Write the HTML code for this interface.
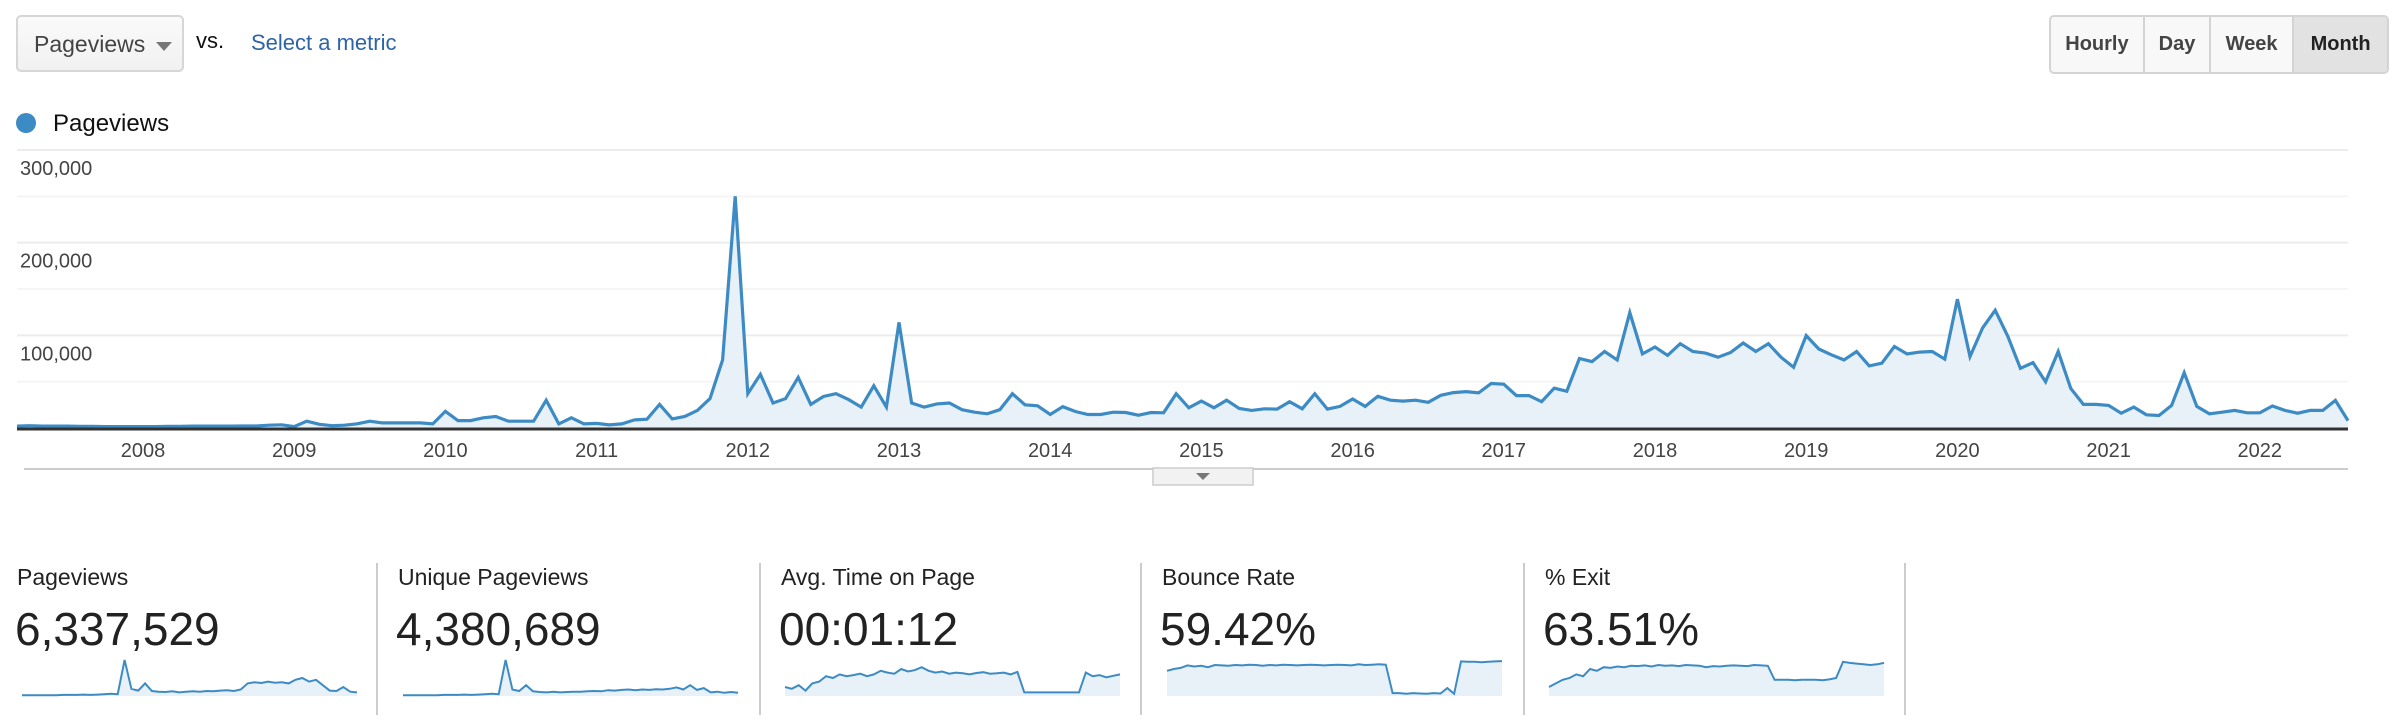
<!DOCTYPE html>
<html><head><meta charset="utf-8"><style>
body{margin:0;width:2404px;height:724px;background:#fff;font-family:"Liberation Sans",Arial,sans-serif;overflow:hidden;position:relative}
.abs{position:absolute}
.dd{left:16px;top:15px;width:168px;height:57px;border:2px solid #d6d6d6;border-radius:5px;background:linear-gradient(#fafafa,#f1f1f1);box-sizing:border-box}
.dd span{position:absolute;left:16px;top:14px;font-size:23px;color:#444}
.dd i{position:absolute;left:138px;top:25px;width:0;height:0;border-left:8px solid transparent;border-right:8px solid transparent;border-top:9px solid #777}
.btns{left:2049px;top:15px;width:340px;height:59px;border:2px solid #d4d4d4;border-radius:5px;box-sizing:border-box;display:flex;overflow:hidden;background:#f8f8f8}
.btns div{display:flex;align-items:center;justify-content:center;font-weight:bold;font-size:20px;color:#444;border-right:2px solid #d4d4d4;box-sizing:border-box}
.card-t{font-size:23px;color:#222;top:564px}
.card-v{font-size:46px;color:#222;top:602px}
.sep{width:2px;background:#ccc;top:563px;height:152px}
</style></head><body>
<div class="abs dd"><span>Pageviews</span><i></i></div>
<div class="abs" style="left:196px;top:28px;font-size:22px;color:#111">vs.</div>
<div class="abs" style="left:251px;top:30px;font-size:22px;color:#2e63a8">Select a metric</div>
<div class="abs btns">
<div style="width:95px">Hourly</div>
<div style="width:67px">Day</div>
<div style="width:84px">Week</div>
<div style="width:94px;background:#e2e2e2;color:#222;border-right:none">Month</div>
</div>
<div class="abs" style="left:16px;top:113px;width:20px;height:20px;border-radius:50%;background:#3d8bc4"></div>
<div class="abs" style="left:53px;top:110px;font-size:24px;color:#111">Pageviews</div>

<svg class="abs" style="left:0;top:0" width="2404" height="724" id="chart"></svg>

<div class="abs card-t" style="left:17px">Pageviews</div>
<div class="abs card-v" style="left:15px">6,337,529</div>
<div class="abs sep" style="left:376px"></div>
<div class="abs card-t" style="left:398px">Unique Pageviews</div>
<div class="abs card-v" style="left:396px">4,380,689</div>
<div class="abs sep" style="left:759px"></div>
<div class="abs card-t" style="left:781px">Avg. Time on Page</div>
<div class="abs card-v" style="left:779px">00:01:12</div>
<div class="abs sep" style="left:1140px"></div>
<div class="abs card-t" style="left:1162px">Bounce Rate</div>
<div class="abs card-v" style="left:1160px">59.42%</div>
<div class="abs sep" style="left:1523px"></div>
<div class="abs card-t" style="left:1545px">% Exit</div>
<div class="abs card-v" style="left:1543px">63.51%</div>
<div class="abs sep" style="left:1904px"></div>

<script>
const yearLabels=["2008","2009","2010","2011","2012","2013","2014","2015","2016","2017","2018","2019","2020","2021","2022"];
const yTicks=[100000,200000,300000];
const yTickLabels=["100,000","200,000","300,000"];
const pageviewsK=[2,2.5,2,2,2,1.8,1.8,1.5,1.5,1.5,1.5,1.5,1.8,1.8,2,2,2,2,2.2,2.2,3,3.5,1.5,7.3,4,2.5,3,4.5,7.3,5.5,5.5,5.5,5.5,
4.4,18,8,8,11,12.4,7.3,7.3,7.3,30,4.4,11,4.4,5,3.3,4.4,8.7,9.5,25.5,9.8,12.4,19,31.7,73.5,250,37,58,27,31.7,
54.6,25.5,34,37,30.6,22.6,45.5,22.6,114,27,22.6,26,27,19.7,17,15.3,19.7,37,25,24,14.6,23,17.8,14.6,14.6,17,16.7,13.8,16.7,16.4,37,
21.8,29,21.8,30,21,19,20.7,20.4,28.4,20.7,37,20.4,23.3,31.3,23.3,34.2,30,29,30,27.7,35.3,38.2,39.3,37.9,48,47.3,35,35,28.4,43,39.7,
75,71.7,82.6,73.5,124.5,80,87.4,78.3,91,82.6,80.8,76.4,81.5,91.7,82.6,91,76.4,65.5,99.7,85.2,79,73.5,82.6,67,69.9,88,80,81.9,82.6,74.3,139,
77,108,127,99,64.4,70.6,49.9,82.6,42.6,25.5,25.5,24.4,16,22.6,14.2,13.5,24.4,59.7,23.3,15.3,17,19,16.4,16.4,23.7,19,16,19,19,29.8,8];
const sparkPageviews=[2,2,2,2,2,2,3,3,3,4,3,4,5,6,5,100,20,15,35,14,12,11,13,10,12,13,12,14,13,15,16,14,18,35,38,36,40,37,38,35,45,50,40,45,30,15,14,25,12,10];
const sparkUnique=[2,2,2,2,2,2,3,3,3,4,3,4,5,6,5,100,18,14,30,13,11,10,12,10,11,12,12,13,14,13,16,15,17,18,16,18,17,19,18,20,24,18,30,17,22,10,12,9,11,9];
const sparkTime=[25,20,30,15,35,40,55,50,60,55,58,62,55,60,70,65,62,75,68,72,80,70,65,68,62,65,63,60,64,66,62,63,65,60,67,10,10,10,10,10,10,10,10,10,65,55,58,52,56,60];
const sparkBounce=[70,75,78,85,82,84,80,86,85,84,86,85,87,86,84,86,85,87,86,85,86,87,86,85,86,87,86,85,88,86,87,88,87,8,8,6,8,7,6,8,7,22,6,96,95,95,94,95,96,97];
const sparkExit=[25,35,45,50,60,55,75,70,80,78,82,80,84,83,85,82,86,84,85,83,86,85,84,80,83,82,84,85,84,83,86,85,84,45,45,45,44,45,45,45,44,46,50,95,92,90,88,86,88,92];

const NS="http://www.w3.org/2000/svg";
const svg=document.getElementById('chart');
function mk(tag,attrs){const e=document.createElementNS(NS,tag);for(const k in attrs)e.setAttribute(k,attrs[k]);svg.appendChild(e);return e;}
const X0=17,X1=2348,Y0=428,YTOP=150,YMAX=300000;
const n=pageviewsK.length;
const xs=i=>X0+i*(X1-X0)/(n-1);
const ys=v=>Y0-v/YMAX*(Y0-YTOP);
for(let g=1;g<=6;g++){const v=g*50000;const l=mk('line',{x1:X0,x2:X1,y1:ys(v),y2:ys(v),stroke:g%2==0?'#ececec':'#f5f5f5','stroke-width':2});

}
yTicks.forEach((v,i)=>{const t=mk('text',{x:20,y:ys(v)+25,'font-size':20,fill:'#444','font-family':'Liberation Sans, sans-serif'});t.textContent=yTickLabels[i];

});
let d='';pageviewsK.forEach((v,i)=>{d+=(i?'L':'M')+xs(i).toFixed(1)+' '+ys(v*1000).toFixed(1)});
const area=mk('path',{d:d+`L${X1} ${Y0}L${X0} ${Y0}Z`,fill:'#e9f1f8'});


const line=mk('path',{d:d,fill:'none',stroke:'#3d8bc4','stroke-width':3.2,'stroke-linejoin':'miter'});


const ax=mk('line',{x1:X0,x2:X1,y1:Y0+1,y2:Y0+1,stroke:'#333','stroke-width':3});


yearLabels.forEach((y,k)=>{const t=mk('text',{x:xs(10+12*k),y:457,'font-size':20,fill:'#444','text-anchor':'middle','font-family':'Liberation Sans, sans-serif'});t.textContent=y;

});
const sl=mk('line',{x1:X0+7,x2:X1,y1:469,y2:469,stroke:'#ccc','stroke-width':2});


const tab=mk('rect',{x:1153,y:468,width:100,height:17,fill:'#f2f2f2',stroke:'#ccc','stroke-width':1.5});


const tri=mk('path',{d:'M1196 473L1210 473L1203 480Z',fill:'#777'});


function spark(arr,x0,name){const w=335,top=660,bot=696;const sx=i=>x0+i*w/(arr.length-1);const sy=v=>bot-v/100*(bot-top);
let p='';arr.forEach((v,i)=>{p+=(i?'L':'M')+sx(i).toFixed(1)+' '+sy(v).toFixed(1)});
const a=mk('path',{d:p+`L${x0+w} ${bot}L${x0} ${bot}Z`,fill:'#e9f1f8'});


const l=mk('path',{d:p,fill:'none',stroke:'#3d8bc4','stroke-width':2});

}
spark(sparkPageviews,22,'pageviews');
spark(sparkUnique,403,'unique-pageviews');
spark(sparkTime,785,'avg-time');
spark(sparkBounce,1167,'bounce-rate');
spark(sparkExit,1549,'exit');
</script>
</body></html>
